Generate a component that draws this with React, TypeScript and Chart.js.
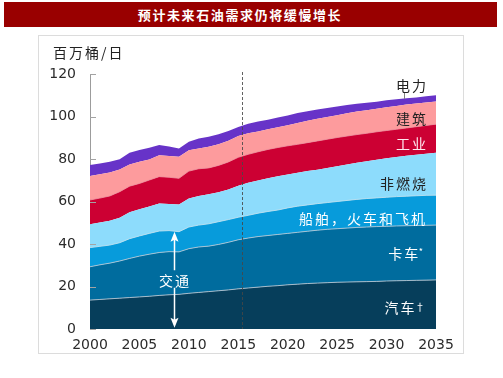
import React, { useEffect, useRef } from "react";
import { Chart, registerables } from "chart.js";

Chart.register(...registerables);

// ---- data (百万桶/日) ----
const years = [
  2000, 2001, 2002, 2003, 2004, 2005, 2006, 2007, 2008, 2009, 2010, 2011,
  2012, 2013, 2014, 2015, 2016, 2017, 2018, 2019, 2020, 2021, 2022, 2023,
  2024, 2025, 2026, 2027, 2028, 2029, 2030, 2031, 2032, 2033, 2034, 2035,
];
// 汽车
const cars = [
  13.6, 13.9, 14.2, 14.5, 14.8, 15.1, 15.4, 15.8, 16.1, 16.3, 16.8, 17.2,
  17.6, 18.0, 18.4, 18.9, 19.3, 19.7, 20.1, 20.4, 20.8, 21.1, 21.4, 21.6,
  21.8, 22.0, 22.1, 22.2, 22.3, 22.4, 22.6, 22.7, 22.8, 22.9, 23.0, 23.1,
];
// 卡车
const trucks = [
  15.7, 16.3, 16.8, 17.5, 18.4, 19.2, 19.8, 20.2, 20.3, 20.0, 21.0, 21.4,
  21.4, 21.8, 22.4, 23.1, 23.5, 23.8, 23.9, 24.1, 24.2, 24.4, 24.6, 24.9,
  25.1, 25.2, 25.4, 25.6, 25.7, 25.8, 25.7, 25.8, 25.8, 25.8, 25.8, 25.8,
];
// 船舶，火车和飞机
const shipsRailAir = [
  9.0, 8.7, 8.5, 8.6, 9.3, 9.5, 9.8, 10.1, 9.9, 9.5, 10.2, 10.3,
  10.5, 10.7, 10.7, 10.6, 10.7, 11.0, 11.3, 11.5, 12.0, 12.3, 12.4, 12.5,
  12.6, 12.8, 13.0, 13.2, 13.4, 13.5, 13.7, 13.8, 13.9, 14.0, 14.1, 14.1,
];
// 非燃烧
const nonCombustion = [
  11.0, 11.2, 11.5, 11.8, 12.5, 12.5, 12.6, 13.0, 12.5, 12.8, 13.4, 13.7,
  13.9, 13.8, 14.1, 14.8, 15.3, 15.4, 15.6, 15.9, 15.7, 15.7, 15.9, 16.0,
  16.3, 16.6, 16.9, 17.2, 17.5, 17.9, 18.3, 18.6, 19.0, 19.3, 19.6, 20.0,
];
// 工业
const industry = [
  11.4, 11.5, 11.6, 12.2, 12.2, 12.2, 12.5, 12.6, 12.6, 12.3, 12.9, 12.8,
  12.4, 12.7, 13.0, 13.4, 13.4, 13.5, 13.6, 13.5, 13.5, 13.4, 13.4, 13.5,
  13.5, 13.5, 13.4, 13.3, 13.2, 13.2, 13.1, 13.1, 13.1, 13.2, 13.3, 13.4,
];
// 建筑
const buildings = [
  11.3, 11.2, 11.0, 10.5, 10.2, 10.2, 9.7, 10.1, 10.0, 10.2, 9.8, 9.6,
  10.0, 10.0, 10.0, 10.0, 9.9, 9.6, 9.5, 9.6, 9.7, 10.1, 10.3, 10.4,
  10.5, 10.5, 10.7, 10.8, 10.9, 10.9, 11.0, 11.0, 11.0, 10.9, 10.8, 10.7,
];
// 电力
const power = [
  5.2, 5.1, 5.1, 4.8, 5.5, 5.5, 5.5, 4.8, 4.5, 3.9, 4.0, 4.6,
  4.7, 4.6, 4.6, 4.3, 4.5, 4.6, 4.5, 4.5, 4.6, 4.6, 4.5, 4.4,
  4.2, 4.1, 3.9, 3.7, 3.5, 3.3, 3.2, 3.1, 3.0, 2.9, 2.9, 2.9,
];

const xTicks = [2000, 2005, 2010, 2015, 2020, 2025, 2030, 2035];
const yTicks = [0, 20, 40, 60, 80, 100, 120];
const projectionStart = 2015.35;
// 交通 arrow annotation (year, values)
const arrowYear = 2008.5;
const arrowTop = 45.8;
const arrowGapTop = 27.6;
const arrowGapBottom = 19.4;
const arrowBottom = 0.6;

const layers = [
  { label: "汽车", data: cars, color: "#063e5b", line: "rgba(175,195,210,0.9)", lw: 1 },
  { label: "卡车", data: trucks, color: "#006c9e", line: "rgba(175,200,215,0.9)", lw: 1 },
  { label: "船舶，火车和飞机", data: shipsRailAir, color: "#079bdb", line: "rgba(190,225,240,0.9)", lw: 1 },
  { label: "非燃烧", data: nonCombustion, color: "#8ddcfc", line: "#8ddcfc", lw: 0 },
  { label: "工业", data: industry, color: "#cc0033", line: "rgba(240,150,160,0.8)", lw: 1 },
  { label: "建筑", data: buildings, color: "#fd9b9d", line: "#fd9b9d", lw: 0 },
  { label: "电力", data: power, color: "#6733c8", line: "#6733c8", lw: 0 },
];

const overlayPlugin = {
  id: "overlay",
  afterDatasetsDraw(chart: any) {
    const { ctx, chartArea } = chart;
    const x = chart.scales.x;
    const y = chart.scales.y;
    ctx.save();
    // inner tick marks on y axis
    ctx.strokeStyle = "#a3a3a3";
    ctx.lineWidth = 1;
    yTicks.forEach((v) => {
      const py = Math.round(y.getPixelForValue(v)) + 0.5;
      ctx.beginPath();
      ctx.moveTo(chartArea.left, py);
      ctx.lineTo(chartArea.left + 6, py);
      ctx.stroke();
    });
    // projection divider
    const px = Math.round(x.getPixelForValue(projectionStart)) + 0.5;
    ctx.setLineDash([3, 2]);
    ctx.strokeStyle = "rgba(70,70,70,0.85)";
    ctx.beginPath();
    ctx.moveTo(px, y.getPixelForValue(120) - 2);
    ctx.lineTo(px, chartArea.bottom);
    ctx.stroke();
    ctx.setLineDash([]);
    // 交通 double arrow
    const ax = Math.round(x.getPixelForValue(arrowYear)) + 0.5;
    const yt = y.getPixelForValue(arrowTop);
    const yg1 = y.getPixelForValue(arrowGapTop);
    const yg2 = y.getPixelForValue(arrowGapBottom);
    const yb = y.getPixelForValue(arrowBottom);
    ctx.strokeStyle = "#ffffff";
    ctx.fillStyle = "#ffffff";
    ctx.lineWidth = 1.5;
    ctx.beginPath();
    ctx.moveTo(ax, yt + 6);
    ctx.lineTo(ax, yg1);
    ctx.moveTo(ax, yg2);
    ctx.lineTo(ax, yb - 6);
    ctx.stroke();
    ctx.beginPath();
    ctx.moveTo(ax, yt);
    ctx.lineTo(ax - 4, yt + 10);
    ctx.lineTo(ax, yt + 8);
    ctx.lineTo(ax + 4, yt + 10);
    ctx.closePath();
    ctx.fill();
    ctx.beginPath();
    ctx.moveTo(ax, yb);
    ctx.lineTo(ax - 4, yb - 10);
    ctx.lineTo(ax, yb - 8);
    ctx.lineTo(ax + 4, yb - 10);
    ctx.closePath();
    ctx.fill();
    ctx.restore();
  },
};

const cjk = '"Noto Sans CJK SC", "Noto Sans", sans-serif';

function Label(props: { text: React.ReactNode; right?: number; cy: number; color: string; left?: number; width?: number }) {
  const style: React.CSSProperties = {
    position: "absolute",
    top: props.cy - 8,
    height: 16,
    lineHeight: "16px",
    fontSize: 14,
    letterSpacing: "2px",
    fontFamily: cjk,
    color: props.color,
    whiteSpace: "nowrap",
  };
  if (props.left !== undefined) {
    style.left = props.left;
    style.width = props.width;
    style.textAlign = "center";
  } else {
    style.right = props.right;
    style.textAlign = "right";
  }
  return <div style={style}>{props.text}</div>;
}

export default function App() {
  const canvasRef = useRef<HTMLCanvasElement | null>(null);

  useEffect(() => {
    if (!canvasRef.current) return;
    const chart = new Chart(canvasRef.current, {
      type: "line",
      data: {
        datasets: layers.map((l, i) => ({
          label: l.label,
          data: years.map((yr, j) => ({ x: yr, y: l.data[j] })),
          backgroundColor: l.color,
          borderColor: l.line,
          borderWidth: l.lw,
          fill: i === 0 ? "origin" : "-1",
          pointRadius: 0,
          tension: 0,
        })),
      },
      options: {
        animation: false,
        responsive: false,
        devicePixelRatio: 1,
        layout: { padding: { left: 0, right: 67, top: 74, bottom: 0 } },
        plugins: { legend: { display: false }, tooltip: { enabled: false } },
        scales: {
          x: {
            type: "linear",
            min: 2000,
            max: 2035,
            afterFit: (s: any) => {
              s.height = 49;
            },
            afterBuildTicks: (s: any) => {
              s.ticks = xTicks.map((v) => ({ value: v }));
            },
            grid: { display: false, drawTicks: false },
            border: { display: false },
            ticks: {
              padding: 8,
              color: "#2b2b2b",
              font: { family: "DejaVu Sans", size: 14 },
              maxRotation: 0,
              autoSkip: false,
              callback: (v: any) => String(v),
            },
          },
          y: {
            stacked: true,
            min: 0,
            max: 120,
            afterFit: (s: any) => {
              s.width = 90;
            },
            afterBuildTicks: (s: any) => {
              s.ticks = yTicks.map((v) => ({ value: v }));
            },
            grid: { display: false, drawTicks: false },
            border: { display: true, color: "#9c9c9c", width: 1 },
            ticks: {
              padding: 14,
              color: "#2b2b2b",
              font: { family: "DejaVu Sans", size: 14 },
              callback: (v: any) => String(v),
            },
          },
        },
      },
      plugins: [overlayPlugin],
    });
    return () => chart.destroy();
  }, []);

  return (
    <div
      style={{
        position: "fixed",
        left: 0,
        top: 0,
        width: 503,
        height: 378,
        background: "#ffffff",
        overflow: "hidden",
      }}
    >
      <div
        style={{
          position: "absolute",
          left: 4,
          top: 2,
          width: 493,
          height: 25,
          background: "#990000",
          color: "#ffffff",
          fontFamily: cjk,
          fontWeight: 700,
          fontSize: 13,
          letterSpacing: "1.6px",
          lineHeight: "25px",
          textAlign: "center",
          paddingRight: 21,
          boxSizing: "border-box",
        }}
      >
        预计未来石油需求仍将缓慢增长
      </div>
      <div
        style={{
          position: "absolute",
          left: 38,
          top: 35,
          width: 426,
          height: 319,
          border: "1px solid #dcdcdc",
          boxSizing: "border-box",
        }}
      />
      <canvas
        ref={canvasRef}
        width={503}
        height={378}
        style={{ position: "absolute", left: 0, top: 0, width: 503, height: 378 }}
      />
      <div
        style={{
          position: "absolute",
          left: 53,
          top: 44,
          lineHeight: "17px",
          fontSize: 14,
          letterSpacing: "2px",
          fontFamily: cjk,
          color: "#222222",
          whiteSpace: "nowrap",
        }}
      >
        百万桶/日
      </div>
      <div style={{ position: "absolute", left: 404, top: 93, width: 1, height: 6, background: "#808080" }} />
      <Label text="电力" right={75} cy={85} color="#222222" />
      <Label text="建筑" right={75} cy={117.5} color="#222222" />
      <Label text="工业" right={75} cy={143} color="#ffe6ee" />
      <Label text="非燃烧" right={75} cy={182.5} color="#222222" />
      <Label text="船舶，火车和飞机" right={76} cy={217.5} color="#ffffff" />
      <Label
        text={
          <>
            卡<span style={{ letterSpacing: "0.5px" }}>车</span>
            <span style={{ fontSize: 9, position: "relative", top: -4, letterSpacing: 0 }}>*</span>
          </>
        }
        right={80}
        cy={253}
        color="#ffffff"
      />
      <Label
        text={
          <>
            汽<span style={{ letterSpacing: "0.5px" }}>车</span>
            <span style={{ fontSize: 10, position: "relative", top: -2, letterSpacing: 0 }}>†</span>
          </>
        }
        right={78}
        cy={306.5}
        color="#ffffff"
      />
      <Label text="交通" left={144} width={62} cy={280} color="#ffffff" />
    </div>
  );
}
